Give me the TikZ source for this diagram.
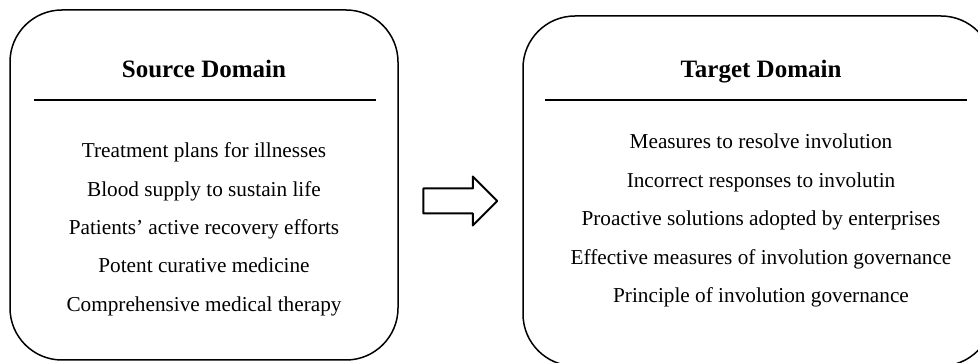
\documentclass[tikz,border=0pt]{standalone}
\usepackage{fontspec}
\setmainfont{Liberation Serif}
\usetikzlibrary{shapes.arrows}
\begin{document}
\begin{tikzpicture}[x=1pt,y=-1pt,line join=round,
    domainbox/.style={draw,line width=1.5pt,rounded corners=52pt,inner sep=0pt,
        minimum height=350pt},
    domtitle/.style={font=\fontsize{25}{30}\selectfont\bfseries,anchor=base,inner sep=0pt},
    domitem/.style={font=\fontsize{21.25}{25}\selectfont,anchor=base,inner sep=0pt},
    mapsto/.style={draw,line width=2pt,single arrow,single arrow head extend=12pt,
        single arrow head indent=0pt,minimum height=74pt,inner xsep=0pt,inner ysep=11.5pt}]
    \clip (0,0) rectangle (978,363);
    % source side
    \node[domainbox,minimum width=388pt] (srcbox) at (204,185) {};
    \node[domtitle] (srctitle) at (204,78) {Source Domain};
    \draw[line width=1.6pt] (34,100) coordinate (srcl) -- (376,100) coordinate (srcr);
    \foreach \txt [count=\i] in {Treatment plans for illnesses,
            Blood supply to sustain life,
            Patients’ active recovery efforts,
            Potent curative medicine,
            Comprehensive medical therapy}
        \node[domitem] (src\i) at (204,{158+38.3*(\i-1)}) {\txt};
    % target side
    \node[domainbox,minimum width=470pt] (tgtbox) at (758,191) {};
    \node[domtitle] (tgttitle) at (761,78) {Target Domain};
    \draw[line width=1.6pt] (545,100) coordinate (tgtl) -- (967,100) coordinate (tgtr);
    \foreach \txt [count=\i] in {Measures to resolve involution,
            Incorrect responses to involutin,
            Proactive solutions adopted by enterprises,
            Effective measures of involution governance,
            Principle of involution governance}
        \node[domitem] (tgt\i) at (761,{149+38.5*(\i-1)}) {\txt};
    % mapping arrow
    \node[mapsto] (map) at (454,201) {};
\end{tikzpicture}
\end{document}
